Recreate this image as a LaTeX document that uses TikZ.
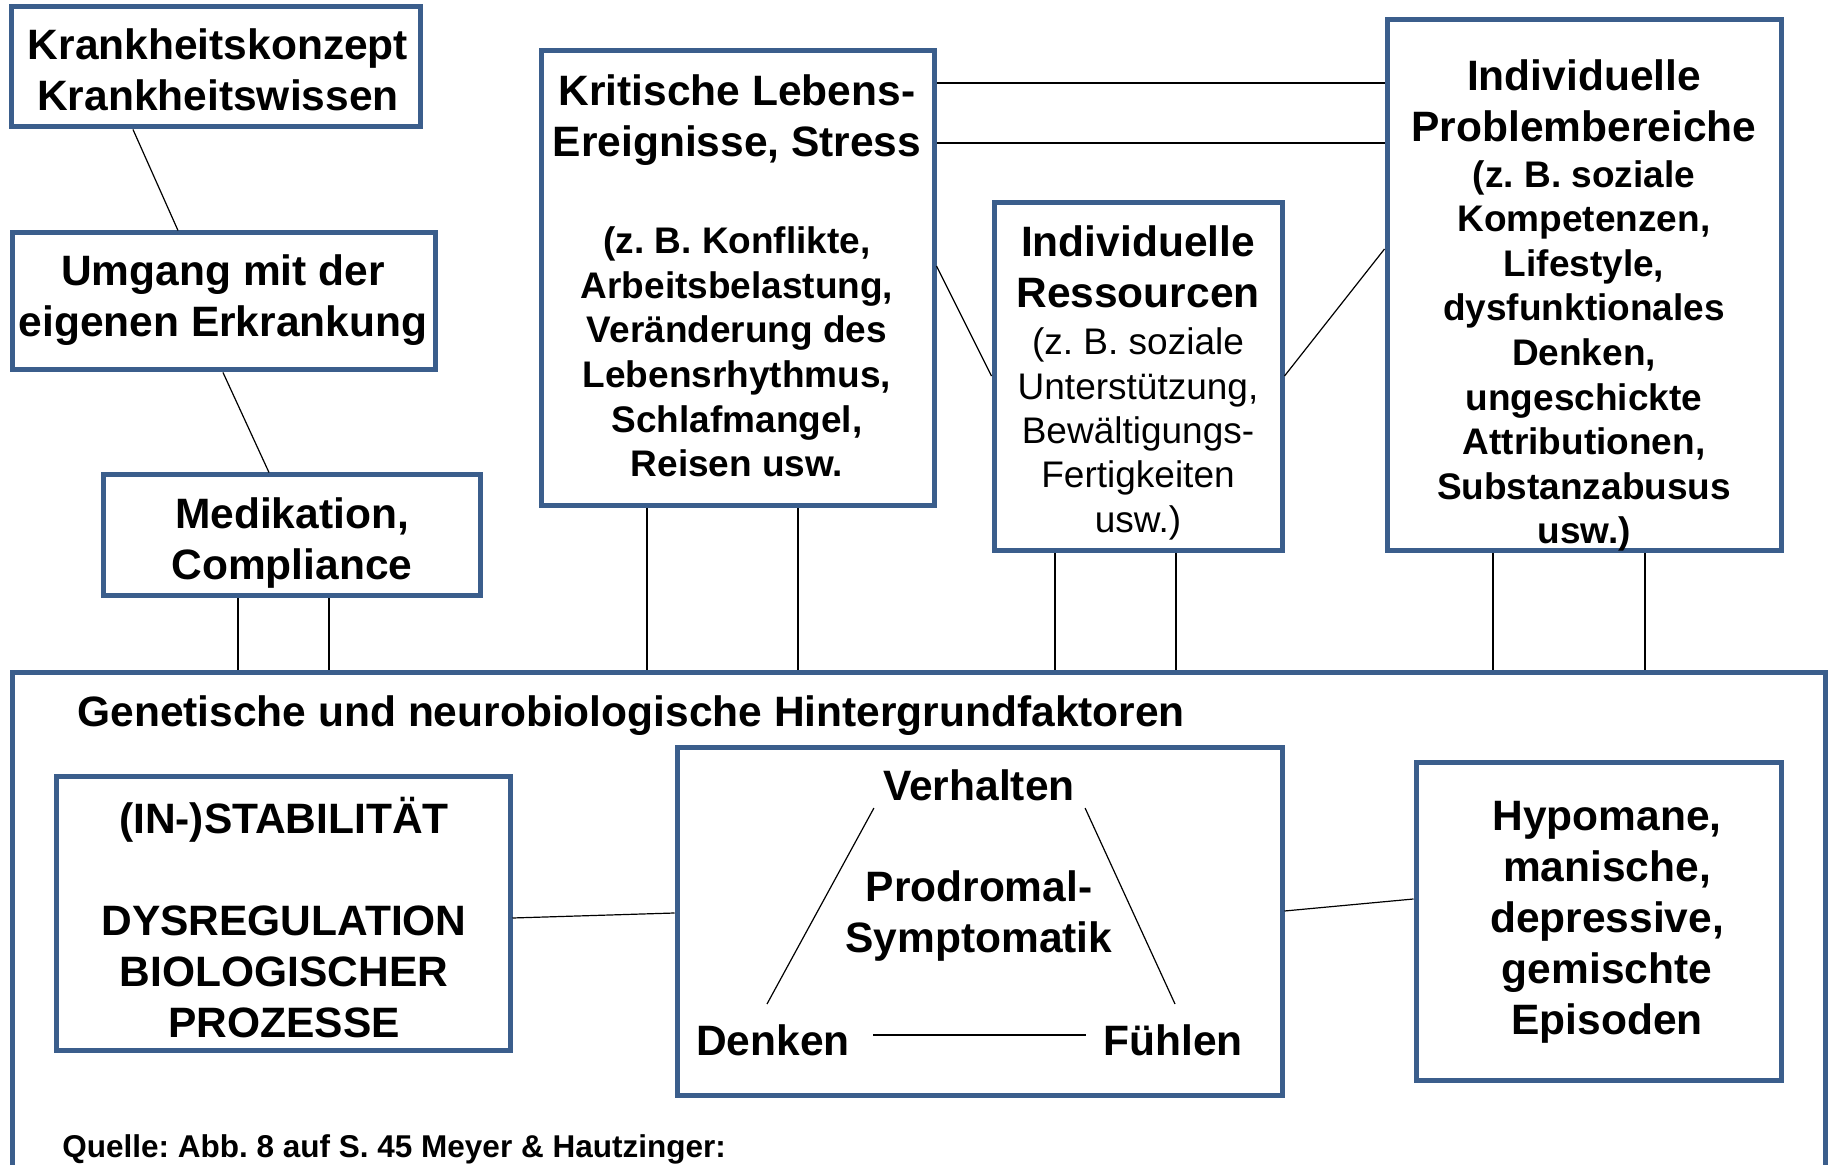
\documentclass[tikz,border=0pt]{standalone}
\usepackage{fontspec}
\setmainfont{Liberation Sans}
\usepackage{tikz}
\usetikzlibrary{fit,calc}
\frenchspacing

\definecolor{rahmen}{RGB}{59,94,140}
\tikzset{
  kasten/.style={draw=rahmen, line width=2.5pt, inner sep=0pt},
  gross/.style={font=\bfseries\fontsize{21.25}{25.5}\selectfont, align=center, inner sep=0pt},
  klein/.style={font=\bfseries\fontsize{18.5}{22.3}\selectfont, align=center, inner sep=0pt},
  duenn/.style={font=\fontsize{18.5}{22.2}\selectfont, align=center, inner sep=0pt},
  linie/.style={line width=0.6pt}
}

\begin{document}
\begin{tikzpicture}[x=0.5pt,y=0.5pt,yscale=-1,xscale=1]
\useasboundingbox (0,0) rectangle (1831,1165);
\clip (0,0) rectangle (1831,1165);

%Shape: Rectangle
\node (konzept) [kasten, fit={(11,7) (420,127)}] {};
%Shape: Rectangle
\node (umgang) [kasten, fit={(12,233) (435,370)}] {};
%Shape: Rectangle
\node (medikation) [kasten, fit={(103,475) (480,596)}] {};
%Shape: Rectangle
\node (kritik) [kasten, fit={(541,51) (934,506)}] {};
%Shape: Rectangle
\node (ressourcen) [kasten, fit={(994,203) (1282,551)}] {};
%Shape: Rectangle
\node (probleme) [kasten, fit={(1387,20) (1781,551)}] {};
%Shape: Rectangle
\node (basis) [kasten, fit={(12,672) (1825,1300)}] {};
%Shape: Rectangle
\node (stabil) [kasten, fit={(56,776) (510,1050)}] {};
%Shape: Rectangle
\node (prodromal) [kasten, fit={(677,747) (1282,1095)}] {};
%Shape: Rectangle
\node (episoden) [kasten, fit={(1416,762) (1781,1080)}] {};

% Text Node
\draw (218,70) node (konzepttext) [gross] {Krankheitskonzept\\Krankheitswissen};
% Text Node
\draw (223,300) node (umgangtext) [gross] {Umgang mit der\\eigenen Erkrankung};
% Text Node
\draw (292,543) node (medikationtext) [gross] {Medikation,\\Compliance};
% Text Node
\draw (737,120) node (kritiktitel) [gross] {Kritische Lebens-\\Ereignisse, Stress};
% Text Node
\draw (737,352) node (kritiktext) [klein] {(z. B. Konflikte,\\Arbeitsbelastung,\\Veränderung des\\Lebensrhythmus,\\Schlafmangel,\\Reisen usw.};
% Text Node
\draw (1138,267) node (ressourcentitel) [gross] {Individuelle\\Ressourcen};
% Text Node
\draw (1138,434) node (ressourcentext) [duenn] {(z. B. soziale\\Unterstützung,\\Bewältigungs-\\Fertigkeiten\\usw.)};
% Text Node
\draw (1584,101) node (problemetitel) [gross] {Individuelle\\Problembereiche};
% Text Node
\draw (1584,356) node (problemetext) [klein] {(z. B. soziale\\Kompetenzen,\\Lifestyle,\\dysfunktionales\\Denken,\\ungeschickte\\Attributionen,\\Substanzabusus\\usw.)};
% Text Node
\draw (77,726) node (basistext) [gross, anchor=base west] {Genetische und neurobiologische Hintergrundfaktoren};
% Text Node
\draw (284,918) node (stabiltext) [gross] {(IN-)STABILITÄT\\[25.5pt]DYSREGULATION\\BIOLOGISCHER\\PROZESSE};
% Text Node
\draw (979,785) node (verhalten) [gross] {Verhalten};
% Text Node
\draw (773,1040) node (denken) [gross] {Denken};
% Text Node
\draw (1173,1040) node (fuehlen) [gross] {Fühlen};
% Text Node
\draw (979,916) node (prodromaltext) [gross] {Prodromal-\\Symptomatik};
% Text Node
\draw (1607,922) node (episodentext) [gross] {Hypomane,\\manische,\\depressive,\\gemischte\\Episoden};
% Text Node
\draw (62,1157) node (quelle) [anchor=base west, inner sep=0pt, font=\bfseries\fontsize{15.75}{19}\selectfont] {Quelle: Abb. 8 auf S. 45 Meyer \& Hautzinger:};

%Straight Lines
\draw [linie] (133,0 |- konzept.south) -- (178,0 |- umgang.north);
\draw [linie] (223,0 |- umgang.south) -- (269,0 |- medikation.north);
%Straight Lines
\draw [linie] (238,0 |- medikation.south) -- (238,0 |- basis.north);
\draw [linie] (329,0 |- medikation.south) -- (329,0 |- basis.north);
\draw [linie] (647,0 |- kritik.south) -- (647,0 |- basis.north);
\draw [linie] (798,0 |- kritik.south) -- (798,0 |- basis.north);
\draw [linie] (1055,0 |- ressourcen.south) -- (1055,0 |- basis.north);
\draw [linie] (1176,0 |- ressourcen.south) -- (1176,0 |- basis.north);
\draw [linie] (1493,0 |- probleme.south) -- (1493,0 |- basis.north);
\draw [linie] (1645,0 |- probleme.south) -- (1645,0 |- basis.north);
%Straight Lines
\draw [linie] (kritik.east |- 0,83) -- (probleme.west |- 0,83);
\draw [linie] (kritik.east |- 0,143) -- (probleme.west |- 0,143);
\draw [linie] (kritik.east |- 0,266) -- (ressourcen.west |- 0,376);
\draw [linie] (ressourcen.east |- 0,376) -- (probleme.west |- 0,249);
%Straight Lines
\draw [linie] (stabil.east |- 0,918) -- (prodromal.west |- 0,913);
\draw [linie] (prodromal.east |- 0,911) -- (episoden.west |- 0,899);
%Straight Lines
\draw [linie] ($(denken.north)+(-6,-20)$) -- ($(verhalten.south west)+(-9,7)$);
\draw [linie] ($(verhalten.south east)+(10,7)$) -- ($(fuehlen.north)+(2,-20)$);
\draw [linie] ($(denken.east)+(23,-5)$) -- ($(fuehlen.west)+(-17,-5)$);

\end{tikzpicture}
\end{document}
